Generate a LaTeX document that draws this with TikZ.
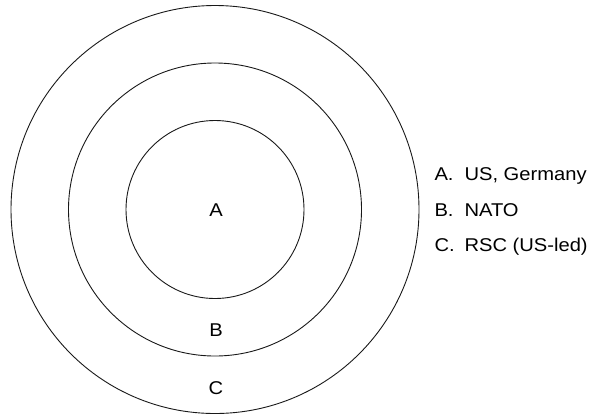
\documentclass[tikz,border=0pt]{standalone}
\usepackage{fontspec}
\newfontfamily\labelfont[FakeStretch=1.09]{Liberation Sans}
\begin{document}
\begin{tikzpicture}[x=1pt, y=-1pt,
  ring/.style={draw=black!90, line width=0.9pt},
  ringlabel/.style={anchor=base, inner sep=0pt, font=\labelfont\fontsize{18.5}{21}\selectfont},
  legendtext/.style={anchor=base west, inner sep=0pt, font=\labelfont\fontsize{18.5}{21}\selectfont}]
  \useasboundingbox (0,0) rectangle (589,416);
  % concentric rings
  \coordinate (ctr) at (215,209.5);
  \draw[ring] (ctr) circle[radius=204];
  \draw[ring] (ctr) circle[radius=146.5];
  \draw[ring] (ctr) circle[radius=89];
  % ring labels
  \node[ringlabel] (la) at (216,216) {A};
  \node[ringlabel] (lb) at (216,336) {B};
  \node[ringlabel] (lc) at (216,394) {C};
  % legend
  \node[legendtext] (ka) at (434.3,180.7) {A.};
  \node[legendtext] (kb) at (434.3,216) {B.};
  \node[legendtext] (kc) at (434.3,251.7) {C.};
  \node[legendtext] (ta) at (464.3,180.7) {US, Germany};
  \node[legendtext] (tb) at (464.3,216) {NATO};
  \node[legendtext] (tc) at (464.3,251.7) {RSC (US-led)};
\end{tikzpicture}
\end{document}
